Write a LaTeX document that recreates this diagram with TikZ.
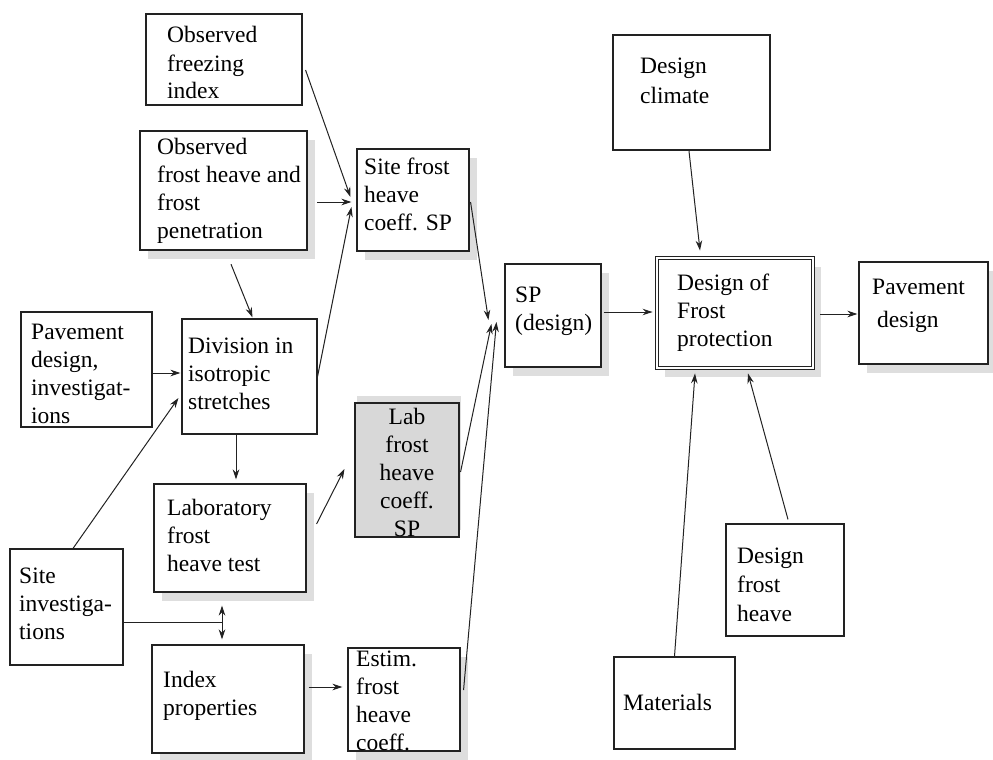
\documentclass[tikz,border=0pt]{standalone}
\usepackage{fontspec}
\setmainfont{Liberation Serif}
\definecolor{myLine}{RGB}{34,34,34}
\definecolor{myShade}{RGB}{222,222,222}
\definecolor{myFill}{RGB}{216,216,216}
\usetikzlibrary{arrows.meta, shadows}

\begin{document}
\begin{tikzpicture}[x=1pt, y=-1pt,
  >={Stealth[length=10pt, width=6.5pt]},
  box/.style={draw=myLine, line width=1.1pt, inner sep=0pt},
  thickbox/.style={box, line width=2.4pt},
  dblbox/.style={box, double, double distance=2.2pt, line width=0.9pt},
  shade/.style={general shadow={fill=myShade, shadow xshift=8pt, shadow yshift=-9pt}},
  txt/.style={anchor=base west, align=left, inner sep=0pt,
              font=\fontsize{23.5}{28}\selectfont},
  arr/.style={->, line width=1pt, myLine}]
  \useasboundingbox (0,0) rectangle (993,760);
  % boxes
  \node[box, minimum width=156, minimum height=91] (fi) at (224,59.5) {};
  \node[thickbox, shade, fill=white, minimum width=167, minimum height=119] (ofh) at (223.5,190.5) {};
  \node[box, shade, fill=white, minimum width=112, minimum height=102] (sf) at (413,200) {};
  \node[box, minimum width=131, minimum height=115] (pdi) at (86.5,369.5) {};
  \node[box, minimum width=135, minimum height=115] (div) at (249.5,376.5) {};
  \node[box, fill=myFill, minimum width=104, minimum height=134,
        general shadow={fill=myShade, shadow xshift=2pt, shadow yshift=7pt}] (lab) at (407,470) {};
  \node[box, shade, fill=white, minimum width=152, minimum height=108] (lft) at (230,538) {};
  \node[box, minimum width=113, minimum height=116] (si) at (66.5,607) {};
  \node[box, shade, fill=white, minimum width=152, minimum height=108] (ip) at (228,699) {};
  \node[box, shade, fill=white, minimum width=112, minimum height=103] (est) at (404,699.5) {};
  \node[thickbox, minimum width=157, minimum height=115] (dc) at (691.5,92.5) {};
  \node[box, shade, fill=white, minimum width=96, minimum height=103] (sp) at (553,315.5) {};
  \node[dblbox, shade, fill=white, minimum width=156, minimum height=110] (dfp) at (735,313) {};
  \node[box, shade, fill=white, minimum width=129, minimum height=102] (pd) at (923.5,313) {};
  \node[box, minimum width=118, minimum height=112] (dfh) at (785,580) {};
  \node[box, minimum width=121, minimum height=92] (mat) at (674.5,703) {};
  % texts (placed by the baseline of their last line)
  \node[txt] (fi-t) at (167,99) {Observed\\freezing\\index};
  \node[txt] (ofh-t) at (157,238) {Observed\\frost heave and\\frost\\penetration};
  \node[txt] (sf-t) at (364,230) {Site frost\\heave\\coeff. SP};
  \node[txt] (pdi-t) at (31,423) {Pavement\\design,\\investigat-\\ions};
  \node[txt] (div-t) at (188,409) {Division in\\isotropic\\stretches};
  \node[txt, anchor=base, align=center] (lab-t) at (407,536) {Lab\\frost\\heave\\coeff.\\SP};
  \node[txt] (lft-t) at (167,571) {Laboratory\\frost\\heave test};
  \node[txt] (si-t) at (19,639) {Site\\investiga-\\tions};
  \node[txt] (ip-t) at (163,715) {Index\\properties};
  \node[txt] (est-t) at (356,750) {Estim.\\frost\\heave\\coeff.};
  \node[txt] (dc-t) at (640,103) {Design\\[2pt]climate};
  \node[txt] (sp-t) at (515,330) {SP\\(design)};
  \node[txt] (dfp-t) at (677,346) {Design of\\Frost\\protection};
  \node[txt] (pd-t) at (872,327) {Pavement\\[5pt]\hspace{5pt}design};
  \node[txt] (dfh-t) at (737,621) {Design\\[1pt]frost\\[1pt]heave};
  \node[txt] (mat-t) at (623,710) {Materials};
  % connectors
  \coordinate (split) at (222,622);
  \draw[arr] ([shift={(3,10.5)}]fi.east) -- ([shift={(-6,-3)}]sf.west);
  \draw[arr] ([shift={(9,11.5)}]ofh.east) -- ([shift={(-5,2)}]sf.west);
  \draw[arr] (div.east) -- ([shift={(-5,7)}]sf.west);
  \draw[arr] ([shift={(7.5,13)}]ofh.south) -- ([shift={(3,-1)}]div.north);
  \draw[arr] ([shift={(0,3.5)}]pdi.east) -- ([shift={(-1,-3.5)}]div.west);
  \draw[arr] ([shift={(-13.5,0)}]div.south) -- ([shift={(6,-4)}]lft.north);
  \draw[arr] ([shift={(6.5,0)}]si.north) -- ([shift={(-3,21.5)}]div.west);
  \draw[line width=1pt, myLine] ([shift={(0,15)}]si.east) -- (split);
  \draw[arr] (split) -- ([shift={(-8,13)}]lft.south);
  \draw[arr] (split) -- ([shift={(-6,-5)}]ip.north);
  \draw[arr] ([shift={(10,-14)}]lft.east) -- ([shift={(-10,-1)}]lab.west);
  \draw[arr] ([shift={(4,-12)}]ip.east) -- ([shift={(-5,-12.5)}]est.west);
  \draw[arr] ([shift={(1,2)}]sf.east) -- ([shift={(-16,4.5)}]sp.west);
  \draw[arr] ([shift={(1,2)}]lab.east) -- ([shift={(-13,8.5)}]sp.west);
  \draw[arr] ([shift={(3,-9.5)}]est.east) -- ([shift={(-8,6.5)}]sp.west);
  \draw[arr] ([shift={(2,-3.5)}]sp.east) -- ([shift={(-4,-1)}]dfp.west);
  \draw[arr] ([shift={(-2.5,0)}]dc.south) -- ([shift={(-35,-7)}]dfp.north);
  \draw[arr] ([shift={(7,1)}]dfp.east) -- ([shift={(-1,1)}]pd.west);
  \draw[arr] (mat.north) -- ([shift={(-40,5)}]dfp.south);
  \draw[arr] ([shift={(3,-4)}]dfh.north) -- ([shift={(13,5)}]dfp.south);
\end{tikzpicture}
\end{document}
